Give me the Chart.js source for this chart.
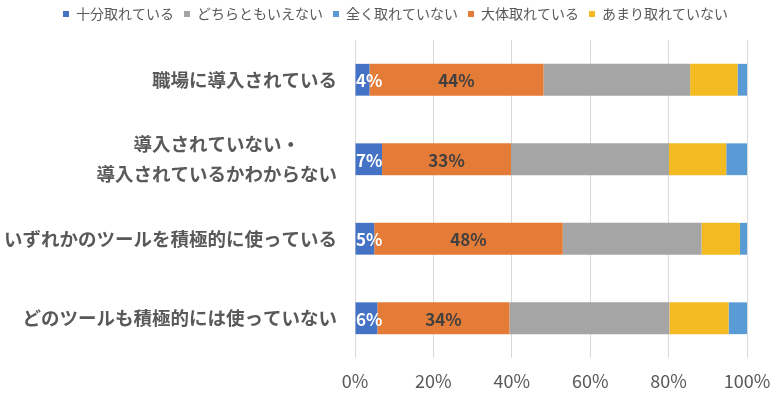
<!DOCTYPE html>
<html>
<head>
<meta charset="utf-8">
<script src="https://cdn.jsdelivr.net/npm/chart.js@4/dist/chart.umd.min.js"></script>
<style>
  html, body { margin: 0; padding: 0; background: #fff; }
  #wrap { width: 780px; height: 399px; }
</style>
</head>
<body>
<div id="wrap"><canvas id="myChart"></canvas></div>
<script>
// categories (top to bottom)
const categories = [
  "職場に導入されている",
  ["導入されていない・\u3000\u3000", "導入されているかわからない"],
  "いずれかのツールを積極的に使っている",
  "どのツールも積極的には使っていない",
];

// series values (%), stacking order left to right
const fullyOk = [3.7, 6.9, 4.9, 5.7];      // 十分取れている
const mostlyOk = [44.4, 32.9, 48.1, 33.7]; // 大体取れている
const neither = [37.4, 40.3, 35.4, 40.8];  // どちらともいえない
const notMuch = [12.1, 14.6, 9.8, 15.1];   // あまり取れていない
const notAtAll = [2.4, 5.3, 1.8, 4.7];     // 全く取れていない

const xTicks = [0, 20, 40, 60, 80, 100];

// legend order as in the picture
const legendOrder = ["十分取れている", "どちらともいえない", "全く取れていない", "大体取れている", "あまり取れていない"];

const FONT = "'Noto Sans CJK JP', 'Noto Sans', sans-serif";

// extra room under the legend, and nudge it right a bit
const legendMargin = {
  id: "legendMargin",
  beforeInit(chart) {
    const fit = chart.legend.fit;
    chart.legend.fit = function () {
      fit.bind(chart.legend)();
      this.height += 9;
    };
  },
  afterLayout(chart) {
    chart.legend.left = 44;
  },
};

// draw % labels on the first two series
const barLabels = {
  id: "barLabels",
  afterDatasetsDraw(chart) {
    const ctx = chart.ctx;
    const left = chart.chartArea.left;
    [0, 1].forEach((di) => {
      const meta = chart.getDatasetMeta(di);
      meta.data.forEach((bar, i) => {
        const val = chart.data.datasets[di].data[i];
        const txt = Math.round(val) + "%";
        ctx.save();
        ctx.font = "bold 17px " + FONT;
        const w = ctx.measureText(txt).width;
        let x = (bar.x + bar.base) / 2;
        if (x - w / 2 < left + 1) x = left + 1 + w / 2;
        ctx.fillStyle = di === 0 ? "#ffffff" : "#404040";
        ctx.textAlign = "center";
        ctx.textBaseline = "middle";
        ctx.fillText(txt, x, bar.y + 1);
        ctx.restore();
      });
    });
  },
};

const chartCanvas = document.getElementById("myChart");
let chart = new Chart(chartCanvas, {
  type: "bar",
  data: {
    labels: categories,
    datasets: [
      { label: "十分取れている", data: fullyOk, backgroundColor: "#4472C4" },
      { label: "大体取れている", data: mostlyOk, backgroundColor: "#E47B36" },
      { label: "どちらともいえない", data: neither, backgroundColor: "#A5A5A5" },
      { label: "あまり取れていない", data: notMuch, backgroundColor: "#F4BA22" },
      { label: "全く取れていない", data: notAtAll, backgroundColor: "#5B9BD5" },
    ],
  },
  options: {
    indexAxis: "y",
    responsive: true,
    maintainAspectRatio: false,
    animation: { duration: 0 },
    barPercentage: 0.4,
    categoryPercentage: 1,
    layout: { padding: { left: 0, right: 33, top: -3, bottom: 0 } },
    scales: {
      x: {
        stacked: true,
        min: 0,
        max: 100,
        afterBuildTicks: (scale) => {
          scale.ticks = xTicks.map((v) => ({ value: v }));
        },
        afterFit: (scale) => {
          scale.height = 41;
          scale.paddingLeft = 0;
          scale.paddingRight = 0;
        },
        grid: { color: "#D9D9D9", drawTicks: false },
        border: { display: false },
        ticks: {
          padding: 12,
          color: "#595959",
          font: { family: FONT, size: 18 },
          callback: (v) => v + "%",
        },
      },
      y: {
        stacked: true,
        grid: { display: false, drawTicks: false },
        border: { display: false },
        afterFit: (scale) => {
          scale.width = 355;
        },
        ticks: {
          padding: 18,
          color: "#595959",
          font: { family: FONT, size: 18.5, weight: "bold", lineHeight: 1.6 },
        },
      },
    },
    plugins: {
      legend: {
        position: "top",
        labels: {
          boxWidth: 6,
          boxHeight: 6,
          padding: 10,
          color: "#595959",
          font: { family: FONT, size: 14 },
          sort: (a, b) => legendOrder.indexOf(a.text) - legendOrder.indexOf(b.text),
        },
      },
      tooltip: { enabled: false },
    },
  },
  plugins: [legendMargin, barLabels],
});
</script>
</body>
</html>
